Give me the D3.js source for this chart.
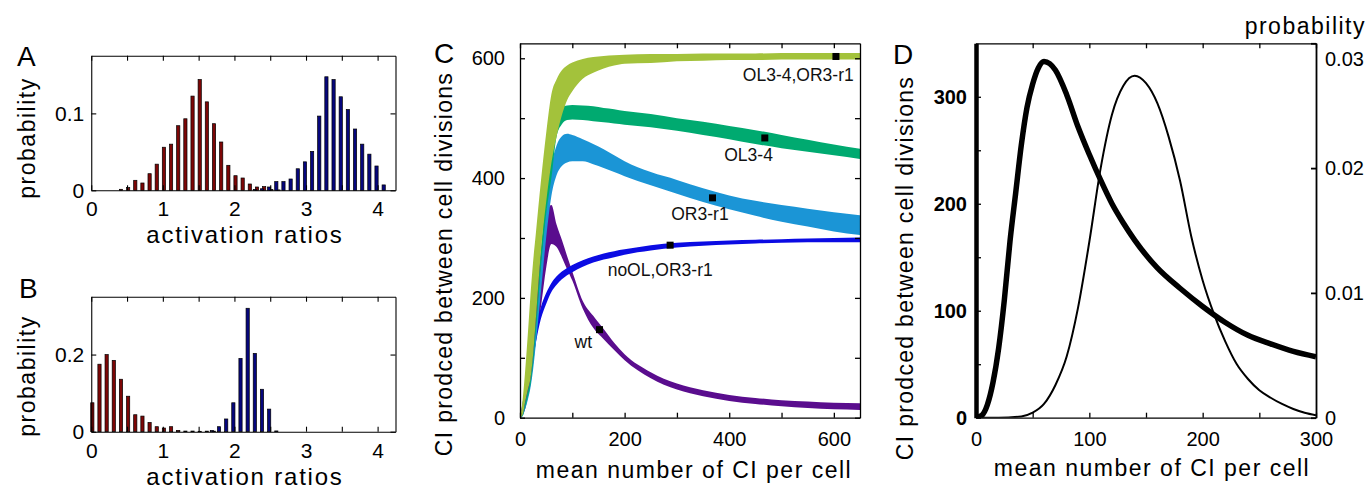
<!DOCTYPE html>
<html>
<head>
<meta charset="utf-8">
<script src="https://cdn.jsdelivr.net/npm/d3@7"></script>
<style>
  body { margin: 0; background: #fff; }
  text { font-family: "Liberation Sans", Arial, Helvetica, sans-serif; fill: #000; }
</style>
</head>
<body>
<script>
// ---- data ----

// histogram bins (activation ratio), one red + one blue bar per bin
const binCenters = [0.05,0.15,0.25,0.35,0.45,0.55,0.65,0.75,0.85,0.95,1.05,1.15,1.25,1.35,1.45,1.55,1.65,1.75,1.85,1.95,
  2.05,2.15,2.25,2.35,2.45,2.55,2.65,2.75,2.85,2.95,3.05,3.15,3.25,3.35,3.45,3.55,3.65,3.75,3.85,3.95,4.05,4.15];

const redA = [0,0,0,0,0.0013,0.0035,0.013,0.0095,0.0216,0.034,0.056,0.060,0.084,0.093,0.1225,0.144,0.115,0.0866,0.0628,0.0325,
  0.019,0.016,0.0082,0.0043,0.0048,0.001,0.0005,0,0,0,0,0,0,0,0,0,0,0,0,0,0,0];
const blueA = [0,0,0,0,0,0,0,0,0,0,0,0,0,0,0,0,0,0,0,0,0,0,
  0.001,0.002,0.0043,0.0113,0.0113,0.0147,0.028,0.037,0.0506,0.0965,0.1476,0.144,0.1216,0.105,0.0797,0.060,0.047,0.0316,0.007,0];

const redB = [0.075,0.175,0.2,0.185,0.136,0.092,0.044,0.0405,0.024,0.013,0.0095,0.013,0.0035,0.0017,0.0017,0.001,0.0015,0.0015,
  0,0,0,0,0,0,0,0,0,0,0,0,0,0,0,0,0,0,0,0,0,0,0,0];
const blueB = [0,0,0,0,0,0,0,0,0,0,0,0,0,0,0,0,
  0.003,0.013,0.033,0.075,0.19,0.32,0.203,0.11,0.0586,0.002,
  0,0,0,0,0,0,0,0,0,0,0,0,0,0,0,0];

const histTicksX = [0, 0.5, 1, 1.5, 2, 2.5, 3, 3.5, 4];

// panel C: each mutant is a band of curves (upper / lower envelope)
const ciGrid = [0,5,10,15,20,25,30,40,50,60,70,80,90,100,120,140,160,180,200,250,300,350,400,450,500,550,600,650];

const bandNames = ["wt", "noOL,OR3-r1", "OR3-r1", "OL3-4", "OL3-4,OR3-r1"];
const bandColors = ["#5a0d8e", "#0b0be3", "#1b95d6", "#00aa70", "#a3c23b"];

const wtUpper   = [0,15,45,85,130,172,205,280,340,355,322,297,270,244,195,170,148,125,106,76,57,46,38,33,29,27,25,24];
const wtLower   = [0,5,15,35,60,90,125,185,250,290,285,268,248,229,182,150,131,113,96,66,47,36,28,23,19,16,14,13];
const noOLUpper = [0,25,50,75,100,124,150,185,208,225,236,244,250,255,263,269,274,278,281,288,292,294,296,297,298,299,300,301];
const noOLLower = [0,5,25,50,75,100,124,165,190,210,222,231,238,243,252,259,264,268,272,279,284,287,289,291,292,293,293,293];
const or3Upper  = [0,5,22,42,62,100,150,260,350,420,455,470,474,472,465,457,448,438,428,410,397,383,371,362,355,349,343,338];
const or3Lower  = [0,3,15,30,50,80,120,210,300,370,405,420,426,428,428,423,417,410,403,388,374,360,348,337,327,319,311,305];
const ol34Upper = [0,5,25,45,65,105,160,280,380,440,512,519,521,522,521,520,517,515,512,507,500,494,487,480,472,464,456,449];
const ol34Lower = [0,3,18,35,55,90,140,250,340,400,470,490,497,498,497,495,493,491,489,485,479,472,465,457,450,444,438,432];
const bothUpper = [0,30,80,140,205,260,305,395,475,540,565,580,588,593,599,602,604,605,606,607,607,608,608,608,609,609,609,609];
const bothLower = [0,5,27,47,66,105,162,278,360,425,470,505,530,545,566,576,583,588,591,592,595,596,597,597,598,598,598,598];

// black square on each band
const markerX = [152, 287, 368, 468, 604];
const markerY = [147, 288, 367, 467, 603];

// panel D
const dX = [0,5,10,15,20,25,30,35,40,45,50,55,60,65,70,80,90,100,110,120,130,140,160,180,200,220,240,260,280,300];
const dCI = [0,2,12,33,65,110,165,210,255,290,312,327,333,331,325,302,272,246,222,200,182,166,140,121,104,89,77,69,62,57];
const dProbX = [0,20,40,50,60,70,80,90,100,110,120,130,140,150,160,170,180,190,200,210,220,230,240,250,260,270,280,290,300];
const dProb = [0,0,0.0001,0.0004,0.0011,0.0026,0.0049,0.0088,0.0141,0.0200,0.0243,0.0266,0.0274,0.0268,0.0252,0.0225,0.0190,
  0.0145,0.0110,0.0083,0.0061,0.0043,0.0031,0.0022,0.0016,0.0011,0.0007,0.0004,0.0002];

// ---- drawing ----
const svg = d3.select("body").append("svg").attr("width", 1369).attr("height", 489);

// box with inward ticks on all four sides (matlab style)
function boxAxes(x, y, o) {
  let g = svg.append("g");
  let [x0, x1] = x.range(), [yb, yt] = y.range();
  let tk = o.tick || 5;

  let bottom = g.append("g").attr("transform", `translate(0,${yb})`)
    .call(d3.axisBottom(x).tickValues(o.xTicks).tickSize(-tk).tickSizeOuter(0).tickPadding(o.xPad).tickFormat(o.xFormat));
  g.append("g").attr("transform", `translate(0,${yt})`)
    .call(d3.axisTop(x).tickValues(o.xTicks).tickSize(-tk).tickSizeOuter(0).tickFormat(""));
  let left = g.append("g").attr("transform", `translate(${x0},0)`)
    .call(d3.axisLeft(y).tickValues(o.yTicks).tickSize(-tk).tickSizeOuter(0).tickPadding(o.yPad).tickFormat(o.yFormat));
  if (!o.noRight) {
    g.append("g").attr("transform", `translate(${x1},0)`)
      .call(d3.axisRight(y).tickValues(o.yTicks).tickSize(-tk).tickSizeOuter(0).tickFormat(""));
  }
  g.selectAll(".domain, .tick line").attr("stroke", "#000").attr("stroke-width", o.lw || 1.2);
  g.selectAll("text").attr("font-family", null).attr("font-size", o.fs).attr("fill", "#000");
  return {g, bottom, left};
}

function axisLabel(txt, x, y, rot, size, spacing) {
  svg.append("text")
    .attr("transform", `translate(${x},${y}) rotate(${rot || 0})`)
    .attr("text-anchor", "middle")
    .attr("font-size", size || 23)
    .attr("letter-spacing", (spacing || 1.5) + "px")
    .text(txt);
}

function panelLetter(txt, x, y) {
  svg.append("text").attr("x", x).attr("y", y).attr("font-size", 28).text(txt);
}

function histogram(red, blue, yMax, yTicks, top, bottom) {
  let x = d3.scaleLinear().domain([0, 4.25]).range([91.25, 395.5]);
  let y = d3.scaleLinear().domain([0, yMax]).range([bottom, top]);
  let bw = x(0.045) - x(0);

  let series = [{vals: red, off: -0.035, fill: "#7d0606"}, {vals: blue, off: 0.035, fill: "#06067d"}];
  series.forEach(s => {
    let rows = binCenters.map((c, i) => ({c: c, v: s.vals[i]})).filter(d => d.v > 0);
    svg.append("g").selectAll("rect").data(rows).enter().append("rect")
      .attr("x", d => x(d.c + s.off) - bw / 2)
      .attr("width", bw)
      .attr("y", d => y(d.v))
      .attr("height", d => y(0) - y(d.v))
      .attr("fill", s.fill)
      .attr("stroke", "#000")
      .attr("stroke-width", 0.7);
  });

  boxAxes(x, y, {
    xTicks: histTicksX, yTicks: yTicks, fs: 21, xPad: 11, yPad: 7, lw: 1.1,
    xFormat: d => Number.isInteger(d) ? d : "",
    yFormat: d => d
  });
}

// A and B
histogram(redA, blueA, 0.175, [0, 0.1], 55.7, 190.3);
histogram(redB, blueB, 0.35, [0, 0.2], 296.7, 431.7);
panelLetter("A", 17, 66);
panelLetter("B", 19, 298);
axisLabel("probability", 35, 138, -90);
axisLabel("probability", 35, 376, -90);
axisLabel("activation ratios", 245, 243, 0, 24, 1.8);
axisLabel("activation ratios", 245, 485, 0, 24, 1.8);

// C
{
  let x = d3.scaleLinear().domain([0, 650]).range([520, 860]);
  let y = d3.scaleLinear().domain([0, 625]).range([417.7, 43.3]);

  svg.append("clipPath").attr("id", "clipC").append("rect")
    .attr("x", 520).attr("y", 43.3).attr("width", 340).attr("height", 374.4);

  let bands = [
    [wtUpper, wtLower], [noOLUpper, noOLLower], [or3Upper, or3Lower], [ol34Upper, ol34Lower], [bothUpper, bothLower]
  ];
  let area = d3.area().curve(d3.curveMonotoneX)
    .x((d, i) => x(ciGrid[i]))
    .y0(d => y(d[1]))
    .y1(d => y(d[0]));

  let gc = svg.append("g").attr("clip-path", "url(#clipC)");
  bands.forEach((b, k) => {
    let pts = ciGrid.map((c, i) => [b[0][i], b[1][i]]);
    gc.append("path").attr("d", area(pts)).attr("fill", bandColors[k]);
  });

  gc.selectAll("rect.mark").data(markerX).enter().append("rect")
    .attr("class", "mark")
    .attr("x", d => x(d) - 3.5).attr("y", (d, i) => y(markerY[i]) - 3.5)
    .attr("width", 7).attr("height", 7).attr("fill", "#000");

  // band names, in data units
  let labelAt = [[121, 127], [268, 247], [344, 341], [437, 439], [532, 572]];
  svg.append("g").selectAll("text").data(bandNames).enter().append("text")
    .attr("x", (d, i) => x(labelAt[i][0]))
    .attr("y", (d, i) => y(labelAt[i][1]))
    .attr("dy", "0.36em")
    .attr("text-anchor", "middle")
    .attr("font-family", "'Open Sans', 'DejaVu Sans', sans-serif")
    .attr("font-size", 17.5)
    .style("fill", "#111")
    .text(d => d);

  boxAxes(x, y, {
    xTicks: d3.range(0, 601, 100), yTicks: d3.range(0, 601, 100), fs: 20, xPad: 14, yPad: 15, lw: 1.3,
    xFormat: d => d % 200 === 0 ? d : "",
    yFormat: d => d % 200 === 0 ? d : ""
  });
  panelLetter("C", 434, 63);
  axisLabel("CI prodced between cell divisions", 452, 264, -90, 23, 1.3);
  axisLabel("mean number of CI per cell", 694, 478);
}

// D
{
  let x = d3.scaleLinear().domain([0, 300]).range([976, 1316]);
  let yL = d3.scaleLinear().domain([0, 350]).range([417.7, 43.3]);
  let yR = d3.scaleLinear().domain([0, 0.03]).range([417.7, 43.3]);

  svg.append("clipPath").attr("id", "clipD").append("rect")
    .attr("x", 976).attr("y", 43.3).attr("width", 340).attr("height", 374.4);
  let gd = svg.append("g").attr("clip-path", "url(#clipD)");

  gd.append("path")
    .attr("d", d3.line().curve(d3.curveMonotoneX).x((d, i) => x(dProbX[i])).y(d => yR(d))(dProb))
    .attr("fill", "none").attr("stroke", "#000").attr("stroke-width", 2);
  gd.append("path")
    .attr("d", d3.line().curve(d3.curveMonotoneX).x((d, i) => x(dX[i])).y(d => yL(d))(dCI))
    .attr("fill", "none").attr("stroke", "#000").attr("stroke-width", 5.5);

  let ax = boxAxes(x, yL, {
    xTicks: d3.range(0, 301, 50), yTicks: d3.range(0, 301, 50), fs: 20, xPad: 14, yPad: 9, lw: 1.3, noRight: true,
    xFormat: d => d % 100 === 0 ? d : "",
    yFormat: d => d % 100 === 0 ? d : ""
  });
  ax.left.selectAll("text").attr("font-weight", "bold");
  ax.left.select(".domain").attr("stroke-width", 4.5);

  let right = svg.append("g").attr("transform", "translate(1316,0)")
    .call(d3.axisRight(yR).tickValues([0, 0.01, 0.02, 0.03]).tickSize(-5).tickSizeOuter(0).tickPadding(9).tickFormat(d => d));
  right.selectAll(".domain, .tick line").attr("stroke", "#000").attr("stroke-width", 1.8);
  right.selectAll("text").attr("font-family", null).attr("font-size", 20).attr("fill", "#000");
  // top label sits a little below the corner
  right.selectAll("text").filter(d => d === 0.03).attr("dy", "1.1em");

  panelLetter("D", 893, 64);
  axisLabel("CI prodced between cell divisions", 913, 268, -90, 23, 1.3);
  axisLabel("mean number of CI per cell", 1152, 476);
  svg.append("text").attr("x", 1366).attr("y", 34).attr("text-anchor", "end")
    .attr("font-size", 23).attr("letter-spacing", "1.5px").text("probability");
}
</script>
</body>
</html>
